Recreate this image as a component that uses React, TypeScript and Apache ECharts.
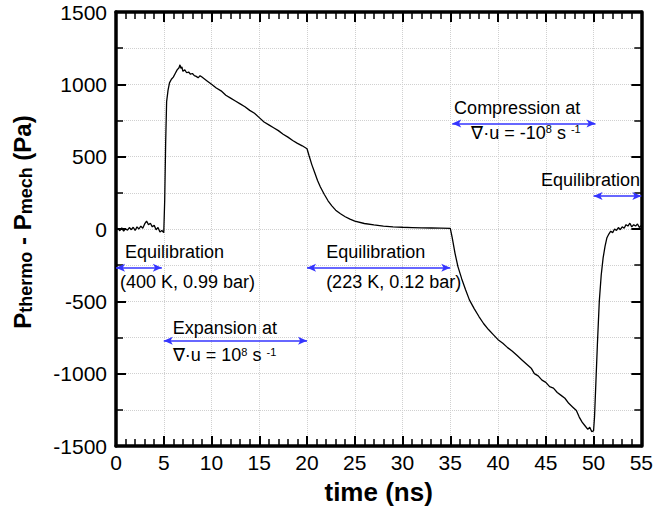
import React, { useEffect, useRef } from "react";
import * as echarts from "echarts";

const FONT = "'Liberation Sans', Arial, Helvetica, sans-serif";

// time (ns), P_thermo - P_mech (Pa)
const timeNs: number[] = [
  0, 0.2, 0.4, 0.6, 0.8, 1.0, 1.2, 1.4, 1.6, 1.8, 2.0, 2.2, 2.4, 2.6, 2.8, 3.0, 3.2, 3.4, 3.6, 3.8, 4.0, 4.2, 4.4, 4.6, 4.8, 5.0,
  5.1, 5.2, 5.3, 5.45, 5.6, 5.8, 6.0, 6.2, 6.4, 6.6, 6.7, 6.8, 6.9, 7.0, 7.2, 7.4, 7.6, 7.8, 8.0, 8.2, 8.4, 8.6, 8.8, 9.0, 9.2, 9.5,
  10, 10.5, 11, 11.5, 12, 12.5, 13, 13.5, 14, 14.5, 15, 15.5, 16, 16.5, 17, 17.5, 18, 18.5, 19, 19.5, 20,
  20.2, 20.5, 20.8, 21.1, 21.4, 21.8, 22.2, 22.6, 23, 23.5, 24, 24.5, 25, 26, 27, 28, 29, 30, 31, 32, 33, 34, 35,
  35.2, 35.5, 35.8, 36.2, 36.6, 37, 37.5, 38, 38.5, 39, 39.5, 40, 40.5, 41, 41.5, 42, 42.5, 43, 43.5, 43.8, 44.2, 44.6, 45,
  45.4, 45.8, 46.2, 46.6, 47, 47.4, 47.8, 48.2, 48.5, 48.8, 49.1, 49.4, 49.6, 49.8, 50.0,
  50.1, 50.25, 50.4, 50.6, 50.8, 51.0, 51.2, 51.4, 51.6, 51.8, 52.0, 52.2, 52.4, 52.6, 52.8, 53.0, 53.2, 53.4, 53.6, 53.8, 54.0, 54.2, 54.4, 54.6, 54.8, 55,
];
const pressureDiff: number[] = [
  -5, 5, -12, 8, -15, 2, -8, 10, -5, 12, -10, 15, 0, 20, 5, 35, 55, 30, 40, 15, 25, -5, 10, -20, -10, -25,
  200, 600, 880, 960, 1010, 1035, 1050, 1075, 1100, 1115, 1135, 1110, 1120, 1090, 1100, 1080, 1085, 1070, 1075, 1060, 1055, 1045, 1060, 1050, 1040, 1025,
  1000, 975, 955, 925, 905, 885, 865, 845, 820, 800, 770, 740, 720, 700, 680, 655, 635, 612, 592, 575, 555,
  510, 445, 390, 335, 290, 240, 195, 160, 130, 105, 85, 68, 55, 38, 28, 20, 15, 12, 10, 8, 7, 6, 5,
  -60, -170, -260, -345, -420, -490, -550, -605, -655, -695, -730, -765, -790, -820, -845, -875, -905, -935, -965, -1000, -1015, -1045, -1060,
  -1090, -1100, -1130, -1150, -1170, -1205, -1230, -1255, -1300, -1335, -1360, -1385, -1370, -1400, -1395,
  -1300, -1050, -800, -500, -320, -200, -120, -60, -35, -15, -25, 0, -10, 10, -5, 15, 5, 30, 20, 40, 15, 30, 20, 35, 10, 25,
];

// blue double arrows: x start, x end, y
const arrowStart: number[] = [0, 20, 5, 35.2, 50];
const arrowEnd: number[] = [4.8, 35, 20, 50.2, 55];
const arrowY: number[] = [-267, -267, -772, 730, 228];

// annotation texts: left x (ns), centre y (Pa)
const noteText: string[] = [
  "Equilibration",
  "(400 K, 0.99 bar)",
  "Equilibration",
  "(223 K, 0.12 bar)",
  "Expansion at",
  "∇·u = 10{sup|8} s {sup|-1}",
  "Compression at",
  "∇·u = -10{sup|8} s {sup|-1}",
  "Equilibration",
];
const noteX: number[] = [0.94, 0.42, 22.0, 22.0, 5.95, 5.95, 35.4, 37.2, 44.5];
const noteY: number[] = [-159, -366, -159, -366, -684, -871, 836, 664, 339];

const xTicks = { min: 0, max: 55, interval: 5 };
const yTicks = { min: -1500, max: 1500, interval: 500 };

export default function App() {
  const ref = useRef<HTMLDivElement>(null);
  useEffect(() => {
    if (!ref.current) return;
    const chart = echarts.init(ref.current, undefined, { renderer: "svg" });
    const axisLine = () => ({ show: true, onZero: false, lineStyle: { color: "#000", width: 3.5 } });
    const tick = () => ({ show: true, inside: true, length: 10, lineStyle: { color: "#000", width: 2 } });
    const minor = (n: number) => ({ show: true, splitNumber: n, length: 7, lineStyle: { color: "#000", width: 1.5 } });
    const grid = () => ({ show: true, lineStyle: { color: "#d0d0d0", type: "dotted", width: 1 } });
    const label = () => ({ fontSize: 21, color: "#000", fontFamily: FONT, formatter: (v: number) => String(v) });
    const data = timeNs.map((t, i) => [t, pressureDiff[i]]);
    chart.setOption({
      animation: false,
      backgroundColor: "#fff",
      grid: { left: 116, right: 13, top: 12, bottom: 67 },
      xAxis: [
        {
          type: "value", ...xTicks, position: "bottom",
          axisLine: axisLine(), axisTick: tick(), minorTick: minor(5),
          axisLabel: { ...label(), margin: 6 },
          splitLine: grid(),
          name: "time (ns)", nameLocation: "middle", nameGap: 33,
          nameTextStyle: { fontSize: 26, fontWeight: "bold", color: "#000", fontFamily: FONT },
        },
        {
          type: "value", ...xTicks, position: "top",
          axisLine: axisLine(), axisTick: tick(), minorTick: minor(5),
          axisLabel: { show: false }, splitLine: { show: false },
        },
      ],
      yAxis: [
        {
          type: "value", ...yTicks, position: "left",
          axisLine: axisLine(), axisTick: tick(), minorTick: minor(2),
          axisLabel: { ...label(), margin: 9 },
          splitLine: grid(), minorSplitLine: grid(),
        },
        {
          type: "value", ...yTicks, position: "right",
          axisLine: axisLine(), axisTick: tick(), minorTick: minor(2),
          axisLabel: { show: false }, splitLine: { show: false },
        },
      ],
      graphic: [
        {
          type: "text",
          x: 22, y: 222,
          rotation: Math.PI / 2,
          style: {
            text: "{b|P}{s|thermo}{b| - P}{s|mech}{b| (Pa)}",
            align: "center",
            verticalAlign: "middle",
            fill: "#000",
            rich: {
              b: { fontSize: 24, fontWeight: "bold", fontFamily: FONT, lineHeight: 26, fill: "#000" },
              s: { fontSize: 18, fontWeight: "bold", fontFamily: FONT, lineHeight: 10, verticalAlign: "bottom", fill: "#000" },
            },
          },
        },
      ],
      series: [
        {
          type: "line",
          xAxisIndex: 0, yAxisIndex: 0,
          data,
          showSymbol: false, symbol: "none",
          lineStyle: { color: "#000", width: 1.3 },
          silent: true,
          markLine: {
            silent: true,
            symbol: ["arrow", "arrow"],
            symbolSize: [6, 9],
            label: { show: false },
            lineStyle: { color: "#3535ff", width: 1.5, type: "solid" },
            data: arrowStart.map((s, i) => [
              { coord: [s, arrowY[i]] },
              { coord: [arrowEnd[i], arrowY[i]] },
            ]),
          },
          markPoint: {
            silent: true,
            symbol: "circle",
            symbolSize: 0,
            data: noteText.map((t, i) => ({
              name: t,
              coord: [noteX[i], noteY[i]],
              label: {
                show: true,
                position: "right",
                distance: 0,
                formatter: (p: any) => p.name,
                color: "#000",
                fontSize: 18,
                fontFamily: FONT,
                rich: {
                  sup: { fontSize: 11, fontFamily: FONT, lineHeight: 8, verticalAlign: "top", color: "#000" },
                },
              },
            })),
          },
        },
      ],
    });
    return () => chart.dispose();
  }, []);
  return (
    <div
      ref={ref}
      style={{ position: "absolute", left: 0, top: 0, width: 656, height: 513 }}
    />
  );
}
